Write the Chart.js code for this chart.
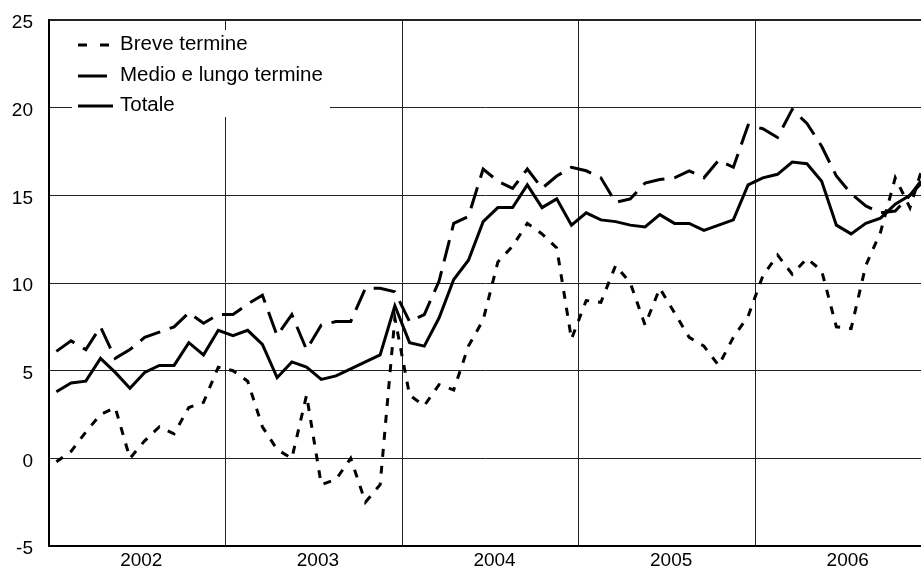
<!DOCTYPE html>
<html>
<head>
<meta charset="utf-8">
<style>
  html, body { margin: 0; padding: 0; background: #fff; overflow: hidden; }
  #wrap { width: 921px; height: 566px; }
</style>
<script src="https://cdn.jsdelivr.net/npm/chart.js@4.4.1/dist/chart.umd.min.js"></script>
</head>
<body>
<div id="wrap"><canvas id="chart" width="921" height="566"></canvas></div>
<script>
// anni sull'asse x (12 mesi ciascuno, gen 2002 - dic 2006)
const years = ["2002", "2003", "2004", "2005", "2006"];
const seriesNames = ["Breve termine", "Medio e lungo termine", "Totale"];

// valori mensili
const breve = [
  -0.2, 0.4, 1.5, 2.5, 2.9, 0.0, 1.0, 1.8, 1.4, 2.9, 3.2, 5.2,
  5.0, 4.4, 1.8, 0.5, 0.0, 3.6, -1.5, -1.2, 0.0, -2.5, -1.5, 8.0,
  3.6, 3.0, 4.2, 3.9, 6.4, 7.9, 11.2, 12.1, 13.4, 12.8, 12.0, 6.8,
  9.0, 8.9, 11.0, 10.0, 7.6, 9.7, 8.3, 6.9, 6.4, 5.3, 6.9, 8.1,
  10.4, 11.6, 10.5, 11.4, 10.7, 7.5, 7.4, 11.0, 12.9, 16.0, 14.3, 17.0
];
const medio = [
  6.1, 6.7, 6.2, 7.5, 5.7, 6.2, 6.9, 7.2, 7.5, 8.3, 7.7, 8.2,
  8.2, 8.8, 9.3, 7.0, 8.2, 6.2, 7.6, 7.8, 7.8, 9.7, 9.7, 9.5,
  7.8, 8.2, 10.1, 13.4, 13.8, 16.5, 15.8, 15.4, 16.5, 15.4, 16.1, 16.6,
  16.4, 16.0, 14.6, 14.8, 15.7, 15.9, 16.0, 16.4, 16.0, 17.0, 16.6, 19.0,
  18.8, 18.3, 19.9, 19.1, 17.8, 16.1, 15.1, 14.4, 14.0, 14.1, 15.0, 16.1
];
const totale = [
  3.8, 4.3, 4.4, 5.7, 4.9, 4.0, 4.9, 5.3, 5.3, 6.6, 5.9, 7.3,
  7.0, 7.3, 6.5, 4.6, 5.5, 5.2, 4.5, 4.7, 5.1, 5.5, 5.9, 8.7,
  6.6, 6.4, 8.0, 10.2, 11.3, 13.5, 14.3, 14.3, 15.6, 14.3, 14.8, 13.3,
  14.0, 13.6, 13.5, 13.3, 13.2, 13.9, 13.4, 13.4, 13.0, 13.3, 13.6, 15.6,
  16.0, 16.2, 16.9, 16.8, 15.8, 13.3, 12.8, 13.4, 13.7, 14.5, 15.0, 15.9
];
const yTicks = [-5, 0, 5, 10, 15, 20, 25];

const FONT = "'Liberation Sans', Arial, sans-serif";
const dashes = [[8, 9], [22, 10], []];

function toPoints(arr) {
  return arr.map((v, i) => ({ x: i + 0.5, y: v }));
}

// legenda dentro l'area del grafico, su fondo bianco
const boxLegend = {
  id: "boxLegend",
  afterDatasetsDraw(chart) {
    const ctx = chart.ctx;
    ctx.save();
    ctx.fillStyle = "#fff";
    ctx.fillRect(72, 30, 258, 87);
    const rows = [45, 76, 106];
    const lineEnd = [109, 107, 113];
    const legDash = [[9, 13], [], []];
    ctx.strokeStyle = "#000";
    ctx.lineWidth = 3;
    ctx.fillStyle = "#000";
    ctx.font = "20.5px " + FONT;
    ctx.textBaseline = "middle";
    seriesNames.forEach((name, i) => {
      ctx.setLineDash(legDash[i]);
      ctx.beginPath();
      ctx.moveTo(78, rows[i]);
      ctx.lineTo(lineEnd[i], rows[i]);
      ctx.stroke();
      ctx.fillText(name, 120, rows[i] - 1);
    });
    ctx.restore();
  }
};

const datasets = [breve, medio, totale].map((arr, i) => ({
  label: seriesNames[i],
  data: toPoints(arr),
  borderColor: "#000",
  borderWidth: 3,
  borderDash: dashes[i],
  pointRadius: 0,
  tension: 0,
  fill: false
}));

new Chart(document.getElementById("chart").getContext("2d"), {
  type: "line",
  data: { datasets: datasets },
  options: {
    responsive: false,
    devicePixelRatio: 1,
    animation: false,
    layout: { autoPadding: false, padding: { top: 20, right: 0, bottom: 0, left: 0 } },
    plugins: { legend: { display: false }, tooltip: { enabled: false } },
    scales: {
      x: {
        type: "linear",
        min: 0,
        max: 59.25,
        afterBuildTicks: s => {
          s.ticks = [];
          for (let k = 0; k < years.length * 2; k++) s.ticks.push({ value: k * 6 });
        },
        afterFit: s => { s.height = 20; s.paddingLeft = 0; s.paddingRight = 0; },
        grid: {
          color: c => (c.tick && c.tick.value % 12 === 0 && c.tick.value > 0) ? "#222" : "rgba(0,0,0,0)",
          lineWidth: 1,
          drawTicks: false
        },
        border: { color: "#000", width: 2 },
        ticks: {
          autoSkip: false,
          maxRotation: 0,
          padding: 3,
          labelOffset: 4,
          color: "#000",
          font: { family: FONT, size: 19 },
          callback: v => (v % 12 === 6 ? years[Math.floor(v / 12)] : "")
        }
      },
      y: {
        min: -5,
        max: 25,
        afterBuildTicks: s => { s.ticks = yTicks.map(v => ({ value: v })); },
        afterFit: s => { s.width = 49; s.paddingTop = 0; s.paddingBottom = 0; },
        grid: {
          color: "#222",
          lineWidth: c => (c.tick && c.tick.value === 25 ? 2 : 1),
          drawTicks: false
        },
        border: { color: "#000", width: 2 },
        ticks: {
          padding: 16,
          labelOffset: 3,
          color: "#000",
          font: { family: FONT, size: 19 }
        }
      }
    }
  },
  plugins: [boxLegend]
});
</script>
</body>
</html>
